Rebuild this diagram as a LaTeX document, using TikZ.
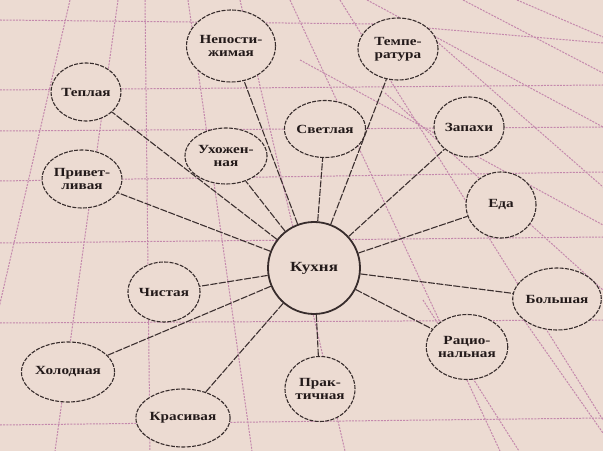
\documentclass[tikz,border=0pt]{standalone}
\usepackage{fontspec}
\setmainfont{Liberation Serif}[FakeStretch=1.22]
\usetikzlibrary{shapes.geometric}
\definecolor{bgc}{RGB}{236,219,210}
\definecolor{gridc}{RGB}{196,136,172}
\definecolor{edgec}{RGB}{55,44,44}
\definecolor{linkc}{RGB}{60,48,48}
\definecolor{txtc}{RGB}{35,26,26}
\tikzset{
  bub/.style={ellipse, draw=edgec, line width=1.1bp, dash pattern=on 4bp off 1.3bp,
    fill=bgc, inner sep=0pt, text=txtc, align=center,
    font=\bfseries\fontsize{12.5}{13}\selectfont},
  hub/.style={circle, draw=edgec, line width=1.8bp, fill=bgc, inner sep=0pt,
    minimum size=92bp, text=txtc, font=\bfseries\fontsize{14}{15}\selectfont},
  link/.style={draw=linkc, line width=1.1bp, dash pattern=on 7bp off 1.5bp},
  gridl/.style={draw=gridc, line width=1bp, dash pattern=on 2bp off 1.2bp}
}
\begin{document}
\begin{tikzpicture}[x=1bp,y=-1bp]
\fill[bgc] (0,0) rectangle (603,451);
\useasboundingbox (0,0) rectangle (603,451);
\begin{scope}
\clip (0,0) rectangle (603,451);
% horizontal family
\draw[gridl] (0,20) -- (380,24) -- (603,43);
\draw[gridl] (0,90) -- (603,85);
\draw[gridl] (0,131) -- (603,127);
\draw[gridl] (0,181) -- (603,172);
\draw[gridl] (0,243) -- (603,237);
\draw[gridl] (0,323) -- (603,320);
\draw[gridl] (0,425) -- (603,418);
% vertical family
\draw[gridl] (70,0) -- (-34,451);
\draw[gridl] (118,0) -- (55,451);
\draw[gridl] (145,0) -- (150,451);
\draw[gridl] (188,0) -- (252,451);
\draw[gridl] (240,0) -- (345,451);
\draw[gridl] (290,0) -- (500,451);
\draw[gridl] (340,0) -- (603,420);
\draw[gridl] (385,93) -- (603,290);
\draw[gridl] (427,33) -- (603,187);
\draw[gridl] (423,300) -- (519,451);
\draw[gridl] (519,313) -- (603,433);
% shallow diagonals upper right
\draw[gridl] (367,0) -- (603,127);
\draw[gridl] (463,0) -- (603,73);
\draw[gridl] (517,0) -- (603,37);
\draw[gridl] (300,60) -- (603,225);
\end{scope}
% nodes
\node[hub] (kux) at (314,268) {Кухня};
\node[bub, minimum width=66bp, minimum height=58bp] (tep) at (86,92) {Теплая};
\node[bub, minimum width=80bp, minimum height=72bp] (nep) at (231,46) {Непости-\\жимая};
\node[bub, minimum width=82bp, minimum height=56bp] (uxo) at (226,156) {Ухожен-\\ная};
\node[bub, minimum width=76bp, minimum height=58bp] (pri) at (82,179) {Привет-\\ливая};
\node[bub, minimum width=80bp, minimum height=62bp] (tem) at (398,49) {Темпе-\\ратура};
\node[bub, minimum width=72bp, minimum height=57bp] (sve) at (325,129) {Светлая};
\node[bub, minimum width=70bp, minimum height=60bp] (zap) at (469,127) {Запахи};
\node[bub, minimum width=70bp, minimum height=66bp] (eda) at (501,205) {Еда};
\node[bub, minimum width=80bp, minimum height=62bp] (bol) at (557,299) {Большая};
\node[bub, minimum width=78bp, minimum height=65bp] (rac) at (467,347) {Рацио-\\нальная};
\node[bub, minimum width=70bp, minimum height=65bp] (pra) at (320,389) {Прак-\\тичная};
\node[bub, minimum width=86bp, minimum height=58bp] (kra) at (183,418) {Красивая};
\node[bub, minimum width=86bp, minimum height=60bp] (xol) at (68,372) {Холодная};
\node[bub, minimum width=72bp, minimum height=60bp] (chi) at (164,292) {Чистая};
% connectors
\foreach \n in {tep,nep,uxo,pri,tem,sve,zap,eda,bol,rac,pra,kra,xol,chi}
  \draw[link] (kux) -- (\n);
\end{tikzpicture}
\end{document}
